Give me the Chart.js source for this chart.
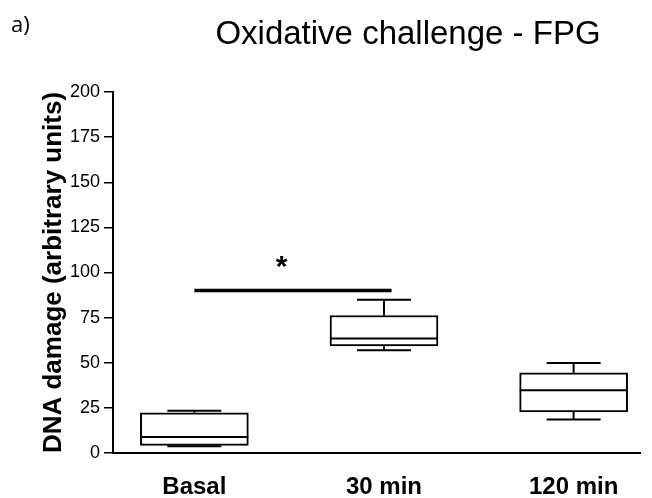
<!DOCTYPE html>
<html>
<head>
<meta charset="utf-8">
<script src="https://cdn.jsdelivr.net/npm/chart.js@4.4.1/dist/chart.umd.min.js"></script>
<style>
  body { margin: 0; background: #fff; }
</style>
</head>
<body>
<canvas id="chart" width="652" height="498"></canvas>
<script>
// box plot values
const categories = ["Basal", "30 min", "120 min"];
const whiskerLow = [3.7, 56.9, 18.6];
const quartile1 = [4.2, 59.3, 22.7];
const medians = [8.8, 63.5, 34.8];
const quartile3 = [22.3, 76.2, 44.4];
const whiskerHigh = [23.4, 84.9, 49.9];
const yTicks = [0, 25, 50, 75, 100, 125, 150, 175, 200];

// significance bracket: from category 1 to just past category 2
const sigSpan = [1, 2.04];
const sigLevel = 90;
const starPos = [1.46, 106];

const FONT = "'Liberation Sans', Arial, sans-serif";
const PAD_LEFT = 38;

const boxPlugin = {
  id: "boxExtras",
  afterDatasetsDraw(chart) {
    const ctx = chart.ctx;
    const x = chart.scales.x;
    const y = chart.scales.y;
    const capHalf = 27;
    const boxHalf = 54;
    ctx.save();
    ctx.strokeStyle = "#000";
    ctx.lineWidth = 2;
    categories.forEach((c, i) => {
      const cx = x.getPixelForValue(i + 1);
      // whiskers
      ctx.beginPath();
      ctx.moveTo(cx, y.getPixelForValue(quartile3[i]));
      ctx.lineTo(cx, y.getPixelForValue(whiskerHigh[i]));
      ctx.moveTo(cx - capHalf, y.getPixelForValue(whiskerHigh[i]));
      ctx.lineTo(cx + capHalf, y.getPixelForValue(whiskerHigh[i]));
      ctx.moveTo(cx, y.getPixelForValue(quartile1[i]));
      ctx.lineTo(cx, y.getPixelForValue(whiskerLow[i]));
      ctx.moveTo(cx - capHalf, y.getPixelForValue(whiskerLow[i]));
      ctx.lineTo(cx + capHalf, y.getPixelForValue(whiskerLow[i]));
      // median
      ctx.moveTo(cx - boxHalf, y.getPixelForValue(medians[i]));
      ctx.lineTo(cx + boxHalf, y.getPixelForValue(medians[i]));
      ctx.stroke();
    });
    // significance line + star
    ctx.lineWidth = 3.5;
    ctx.beginPath();
    ctx.moveTo(x.getPixelForValue(sigSpan[0]), y.getPixelForValue(sigLevel));
    ctx.lineTo(x.getPixelForValue(sigSpan[1]), y.getPixelForValue(sigLevel));
    ctx.stroke();
    ctx.fillStyle = "#000";
    ctx.font = "bold 30px " + FONT;
    ctx.textAlign = "center";
    ctx.textBaseline = "middle";
    ctx.fillText("*", x.getPixelForValue(starPos[0]), y.getPixelForValue(starPos[1]) + 6);
    ctx.restore();
  },
  afterDraw(chart) {
    const ctx = chart.ctx;
    ctx.save();
    ctx.fillStyle = "#000";
    ctx.textBaseline = "alphabetic";
    ctx.textAlign = "center";
    ctx.font = "33px " + FONT;
    ctx.fillText("Oxidative challenge - FPG", 408, 44);
    ctx.textAlign = "left";
    ctx.font = "22px 'Open Sans', sans-serif";
    ctx.fillText("a)", 11, 32);
    ctx.restore();
  }
};

new Chart(document.getElementById("chart"), {
  type: "bar",
  data: {
    datasets: [
      {
        data: categories.map((c, i) => ({ x: i + 1, y: [quartile1[i], quartile3[i]] })),
        backgroundColor: "#fff",
        borderColor: "#000",
        borderWidth: 2,
        borderSkipped: false,
        barThickness: 108,
      },
    ],
  },
  options: {
    responsive: false,
    animation: false,
    layout: {
      padding: { top: 92, left: PAD_LEFT, right: 12, bottom: 0 },
    },
    plugins: {
      legend: { display: false },
      tooltip: { enabled: false },
    },
    scales: {
      x: {
        type: "linear",
        offset: false,
        min: 0.571,
        max: 3.35,
        afterBuildTicks: (scale) => {
          scale.ticks = categories.map((c, i) => ({ value: i + 1 }));
        },
        afterFit: (scale) => {
          scale.height = 45;
        },
        ticks: {
          callback: (v) => categories[v - 1],
          color: "#000",
          padding: 12,
          font: { family: FONT, size: 24, weight: "bold" },
        },
        grid: { display: false, offset: false },
        border: { display: true, color: "#000", width: 2 },
      },
      y: {
        min: 0,
        max: 200,
        afterBuildTicks: (scale) => {
          scale.ticks = yTicks.map((v) => ({ value: v }));
        },
        afterFit: (scale) => {
          scale.width = 113 - PAD_LEFT;
        },
        ticks: {
          color: "#000",
          padding: 4,
          font: { family: FONT, size: 18 },
        },
        grid: {
          drawOnChartArea: false,
          drawTicks: true,
          tickLength: 9,
          color: "#000",
          lineWidth: 1.5,
        },
        border: { display: true, color: "#000", width: 2 },
        title: {
          display: true,
          text: "DNA damage (arbitrary units)",
          color: "#000",
          padding: 0,
          font: { family: FONT, size: 26, weight: "bold" },
        },
      },
    },
  },
  plugins: [boxPlugin],
});
</script>
</body>
</html>
